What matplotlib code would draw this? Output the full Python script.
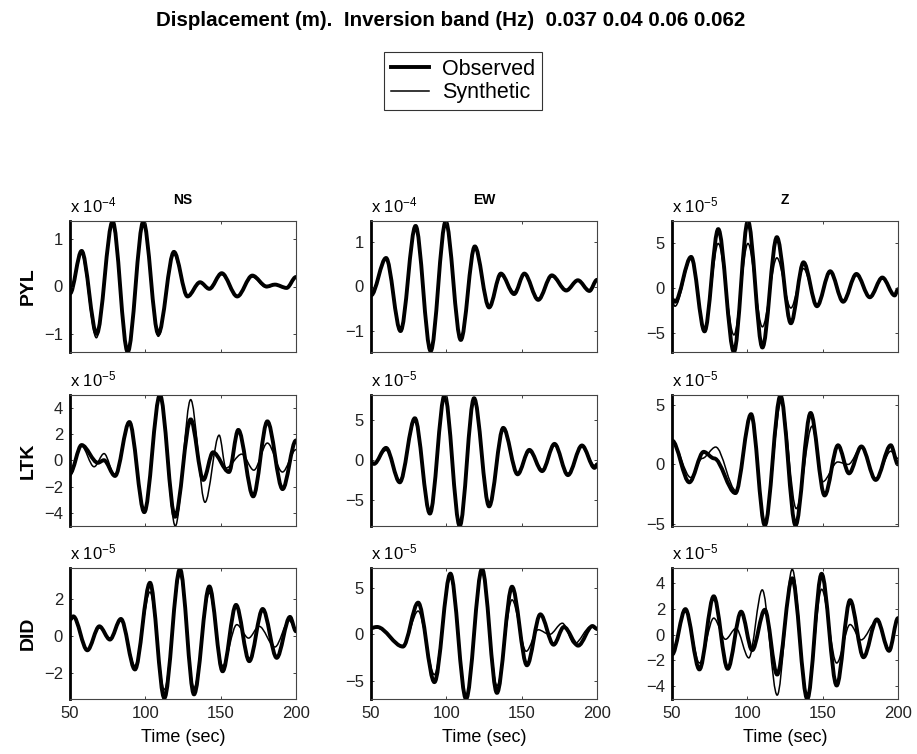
import matplotlib
matplotlib.use("Agg")
import matplotlib.pyplot as plt
from matplotlib.path import Path
from matplotlib.patches import PathPatch
from matplotlib.lines import Line2D

plt.rcParams['font.family'] = ['Liberation Sans', 'DejaVu Sans']
plt.rcParams['mathtext.fontset'] = 'custom'
plt.rcParams['mathtext.rm'] = 'Liberation Sans'
plt.rcParams['mathtext.it'] = 'Liberation Sans:italic'
plt.rcParams['mathtext.bf'] = 'Liberation Sans:bold'

# ---------------- data (peak / trough picks, amplitude in units of 10^exp m) ----------------
stations = ["PYL", "LTK", "DID"]
components = ["NS", "EW", "Z"]
x_ticks = [50, 100, 150, 200]
exponents = [[-4, -4, -5], [-5, -5, -5], [-5, -5, -5]]
y_limits = [[(-1.38, 1.38), (-1.47, 1.47), (-7.1, 7.5)],
            [(-5.0, 4.95), (-8.25, 8.1), (-5.15, 5.8)],
            [(-3.4, 3.7), (-6.9, 7.1), (-5.0, 5.2)]]
y_ticks = [[[-1, 0, 1], [-1, 0, 1], [-5, 0, 5]],
           [[-4, -2, 0, 2, 4], [-5, 0, 5], [-5, 0, 5]],
           [[-2, 0, 2], [-5, 0, 5], [-4, -2, 0, 2, 4]]]

# PYL NS
pyl_ns_t_obs = [50, 57.7, 67.7, 78.3, 88.3, 98.7, 108.6, 119, 128, 136.3, 142.5, 150.7, 161, 171, 180.5, 186, 193.8, 200]
pyl_ns_v_obs = [-0.15, 0.75, -1.0, 1.37, -1.38, 1.37, -1.0, 0.73, -0.21, 0.09, -0.05, 0.28, -0.21, 0.23, 0.0, 0.04, -0.03, 0.2]
pyl_ns_t_syn = [50, 57.5, 67.5, 78.2, 88.3, 98.6, 108.6, 118.8, 128, 136.3, 142.5, 150.7, 161, 171, 180.5, 186, 193.8, 200]
pyl_ns_v_syn = [-0.1, 0.7, -1.08, 1.3, -1.35, 1.32, -1.05, 0.68, -0.2, 0.07, -0.03, 0.25, -0.2, 0.2, -0.02, 0.03, -0.04, 0.18]
# PYL EW
pyl_ew_t_obs = [50, 60, 69.6, 79.6, 89.6, 99.6, 109.6, 118.9, 128.4, 136.2, 145, 151.8, 161, 170, 179.6, 187.3, 195, 200]
pyl_ew_v_obs = [-0.2, 0.64, -1.0, 1.36, -1.45, 1.46, -1.2, 0.9, -0.47, 0.29, -0.17, 0.29, -0.3, 0.25, -0.09, 0.14, -0.1, 0.15]
pyl_ew_t_syn = [50, 60, 69.6, 79.6, 89.6, 99.6, 109.6, 118.9, 128.4, 136.5, 145, 151.8, 161, 170, 179.6, 187.3, 195, 200]
pyl_ew_v_syn = [-0.15, 0.62, -0.97, 1.32, -1.42, 1.44, -1.17, 0.86, -0.42, 0.24, -0.12, 0.26, -0.27, 0.22, -0.07, 0.12, -0.08, 0.13]
# PYL Z
pyl_z_t_obs = [50, 52, 62.7, 71.6, 80.7, 91.1, 100.4, 110, 119.6, 128.9, 137.3, 146.2, 155, 163.6, 172.4, 181.3, 189.6, 197.8, 200]
pyl_z_v_obs = [-1.2, -1.5, 3.5, -4.8, 6.6, -7.1, 7.5, -6.6, 5.7, -3.9, 2.9, -2.0, 1.9, -1.5, 1.6, -1.0, 1.2, -0.8, -0.1]
pyl_z_t_syn = [50, 52, 62.7, 71.6, 80.7, 91.1, 100.4, 110, 119.6, 128.9, 137.3, 146.2, 155, 163.6, 172.4, 181.3, 189.6, 197.8, 200]
pyl_z_v_syn = [-1.5, -2.0, 3.3, -4.6, 5.0, -5.2, 5.0, -4.3, 3.4, -2.2, 2.2, -1.8, 1.7, -1.3, 1.4, -1.0, 1.1, -0.8, -0.2]
# LTK NS
ltk_ns_t_obs = [50, 57.7, 68.5, 72.5, 79.9, 89.4, 99.3, 109.7, 119.7, 130.1, 138.5, 144.9, 155.5, 161.7, 171.6, 181, 191.1, 200]
ltk_ns_v_obs = [-1.0, 1.15, -0.2, 0.0, -1.2, 2.9, -3.95, 4.95, -4.3, 3.1, -1.5, 0.6, -0.9, 2.3, -2.75, 2.95, -2.2, 1.5]
ltk_ns_t_syn = [50, 57.5, 66, 72.6, 79.9, 89.4, 99.3, 109.7, 119.9, 130.1, 139.6, 149, 153.5, 164, 172, 181, 191, 200]
ltk_ns_v_syn = [-1.2, 1.1, -0.5, 0.5, -1.2, 2.8, -3.9, 4.9, -5.0, 4.6, -3.2, 1.9, -0.6, 0.46, -0.76, 1.3, -0.9, 0.8]
# LTK EW
ltk_ew_t_obs = [50, 52, 60, 69.1, 79.1, 89.1, 98.9, 108.9, 118.4, 128.4, 137.8, 147.3, 155.1, 163.6, 171.8, 180.7, 190, 198.4, 200]
ltk_ew_v_obs = [-0.3, -0.5, 1.5, -2.8, 5.2, -6.7, 8.1, -8.25, 7.7, -5.8, 4.0, -1.8, 1.25, -1.4, 2.0, -1.9, 1.8, -1.0, -0.6]
ltk_ew_t_syn = [50, 52, 60, 69.1, 79.1, 89.1, 98.9, 108.9, 118.4, 128.4, 137.8, 147.3, 155.1, 163.6, 171.8, 180.7, 190, 198.4, 200]
ltk_ew_v_syn = [-0.3, -0.4, 1.2, -2.5, 4.8, -6.4, 7.9, -8.0, 7.5, -5.5, 3.8, -1.6, 1.0, -1.2, 1.8, -1.7, 1.6, -0.7, -0.4]
# LTK Z
ltk_z_t_obs = [50, 61.5, 71, 78, 92.1, 102.5, 111.6, 122, 132, 142, 151.3, 160.2, 167.5, 175.7, 185.2, 195.2, 200]
ltk_z_v_obs = [2.0, -1.5, 1.05, 0.5, -2.4, 4.2, -5.1, 5.75, -5.1, 4.3, -2.6, 1.6, -0.75, 1.5, -1.3, 1.6, 0.0]
ltk_z_t_syn = [50, 62.5, 70, 79, 92.5, 102.5, 111.6, 122.5, 132.5, 143, 150, 160, 167, 175.7, 185.2, 195.2, 200]
ltk_z_v_syn = [1.9, -1.1, 0.5, 1.45, -2.2, 4.1, -5.0, 5.25, -3.7, 3.2, -1.45, 0.2, 0.0, 1.4, -1.2, 1.1, 0.5]
# DID NS
did_ns_t_obs = [50, 52.2, 61.5, 69.5, 76.5, 83.8, 93.1, 103.1, 112.6, 123, 132.3, 142.5, 151.3, 160.2, 169, 177.9, 187.2, 196, 200]
did_ns_v_obs = [0.9, 1.08, -0.76, 0.54, -0.18, 0.94, -1.8, 2.9, -3.35, 3.65, -3.15, 2.7, -1.9, 1.7, -1.35, 1.48, -1.17, 1.05, 0.27]
did_ns_t_syn = [50, 52.2, 61.5, 69.5, 76.5, 83.8, 93.1, 103.1, 112.6, 123, 132.3, 142.5, 151.3, 160.7, 168.5, 175.5, 186, 195.5, 200]
did_ns_v_syn = [0.8, 1.0, -0.7, 0.5, -0.2, 0.9, -1.6, 2.4, -2.9, 3.3, -2.8, 2.35, -1.6, 0.63, -0.1, 0.54, -0.58, 0.85, 0.35]
# DID EW
did_ew_t_obs = [50, 54, 71.2, 81.3, 92.1, 102.7, 113.1, 123.7, 133.6, 143.6, 153.5, 162.4, 171.2, 178, 187.5, 197, 200]
did_ew_v_obs = [0.7, 0.8, -1.3, 3.4, -5.1, 6.5, -6.9, 7.0, -6.25, 5.1, -3.3, 2.15, -1.1, 0.8, -1.2, 0.9, 0.6]
did_ew_t_syn = [50, 54, 71.2, 81.3, 92.1, 102.7, 113.1, 123.7, 133.6, 143.6, 153, 161, 168.5, 177, 185, 196, 200]
did_ew_v_syn = [0.6, 0.7, -1.2, 2.5, -4.3, 6.0, -6.6, 6.8, -5.5, 3.7, -1.8, 0.5, 0.0, 1.2, -1.0, 0.85, 0.5]
# DID Z
did_z_t_obs = [50, 58.9, 68.2, 77.7, 87, 95.9, 103.2, 111.6, 119.8, 129.8, 139.8, 149.3, 159.3, 168.2, 177.1, 186, 194.1, 200]
did_z_v_obs = [-1.55, 2.0, -2.7, 3.0, -2.65, 1.8, -1.2, 1.95, -3.1, 4.4, -5.0, 4.75, -3.95, 2.7, -1.75, 1.2, -1.25, 1.3]
did_z_t_syn = [50, 58.9, 68.2, 77.7, 85.5, 92.5, 101, 109.9, 119.8, 129.8, 139.8, 149.3, 159.3, 168.2, 175.5, 186, 194.1, 200]
did_z_v_syn = [-1.4, 2.0, -2.2, 1.3, -0.35, 0.5, -1.8, 3.5, -4.7, 5.1, -4.9, 3.55, -2.2, 0.8, -0.4, 1.1, -1.2, 1.2]

traces = [
    [(pyl_ns_t_obs, pyl_ns_v_obs, pyl_ns_t_syn, pyl_ns_v_syn),
     (pyl_ew_t_obs, pyl_ew_v_obs, pyl_ew_t_syn, pyl_ew_v_syn),
     (pyl_z_t_obs, pyl_z_v_obs, pyl_z_t_syn, pyl_z_v_syn)],
    [(ltk_ns_t_obs, ltk_ns_v_obs, ltk_ns_t_syn, ltk_ns_v_syn),
     (ltk_ew_t_obs, ltk_ew_v_obs, ltk_ew_t_syn, ltk_ew_v_syn),
     (ltk_z_t_obs, ltk_z_v_obs, ltk_z_t_syn, ltk_z_v_syn)],
    [(did_ns_t_obs, did_ns_v_obs, did_ns_t_syn, did_ns_v_syn),
     (did_ew_t_obs, did_ew_v_obs, did_ew_t_syn, did_ew_v_syn),
     (did_z_t_obs, did_z_v_obs, did_z_t_syn, did_z_v_syn)],
]

title_text = "Displacement (m).  Inversion band (Hz)  0.037 0.04 0.06 0.062"
legend_labels = ["Observed", "Synthetic"]


def wave_path(t, v):
    """Smooth path through picked extrema (flat tangents at each pick)."""
    verts = [(t[0], v[0])]
    codes = [Path.MOVETO]
    for i in range(1, len(t)):
        dt = t[i] - t[i - 1]
        verts += [(t[i - 1] + dt / 3.0, v[i - 1]), (t[i] - dt / 3.0, v[i]), (t[i], v[i])]
        codes += [Path.CURVE4] * 3
    return Path(verts, codes)


W, H = 917, 754
fig = plt.figure(figsize=(W / 100, H / 100), dpi=100)

col_left = [70, 371, 672]
row_top = [221, 395, 568]
ax_w, ax_h = 226, 131

for r in range(3):
    for c in range(3):
        l = col_left[c] / W
        b = 1 - (row_top[r] + ax_h) / H
        ax = fig.add_axes([l, b, ax_w / W, ax_h / H])
        t_o, v_o, t_s, v_s = traces[r][c]
        ax.add_patch(PathPatch(wave_path(t_o, v_o), fill=False, edgecolor='black',
                               lw=2.8, joinstyle='round', capstyle='round'))
        ax.add_patch(PathPatch(wave_path(t_s, v_s), fill=False, edgecolor='black',
                               lw=1.1, joinstyle='round', capstyle='round'))
        ax.set_xlim(50, 200)
        ax.set_ylim(*y_limits[r][c])
        ax.set_xticks(x_ticks)
        ax.set_yticks(y_ticks[r][c])
        ax.set_yticklabels([f"{v:d}".replace("-", "\u2212") for v in y_ticks[r][c]])
        ax.tick_params(direction='in', length=2.0, width=0.6, top=True, right=True,
                       labelsize=12, pad=5, colors='#222222')
        ax.tick_params(axis='x', pad=5)
        if r < 2:
            ax.set_xticklabels([])
        else:
            ax.set_xlabel("Time (sec)", fontsize=13, labelpad=6)
        for name, sp in ax.spines.items():
            sp.set_color('#444444')
            sp.set_linewidth(0.8)
        ax.spines['left'].set_color('black')
        ax.spines['left'].set_linewidth(2.0)
        ax.text(0.0, 1.04, r"x 10$^{%d}$" % exponents[r][c], transform=ax.transAxes,
                ha='left', va='bottom', fontsize=12)
        if r == 0:
            ax.text(0.5, 1.11, components[c], transform=ax.transAxes, ha='center',
                    va='bottom', fontsize=10, fontweight='bold')
        if c == 0:
            ax.set_ylabel(stations[r], fontsize=14, fontweight='bold')
            ax.yaxis.set_label_coords(-0.145, 0.5)

fig.text(451 / W, 1 - 21 / H, title_text, ha='center', va='center',
         fontsize=14.8, fontweight='bold')

handles = [Line2D([], [], color='black', lw=2.8), Line2D([], [], color='black', lw=1.1)]
leg = fig.legend(handles, legend_labels, loc='center', bbox_to_anchor=(463 / W, 1 - 81 / H),
                 fontsize=15.5, frameon=True, fancybox=False, borderpad=0.3,
                 handlelength=1.8, handletextpad=0.6, labelspacing=0.1, borderaxespad=0)
leg.get_frame().set_edgecolor('black')
leg.get_frame().set_linewidth(0.8)

fig.savefig("out.png", dpi=100)
